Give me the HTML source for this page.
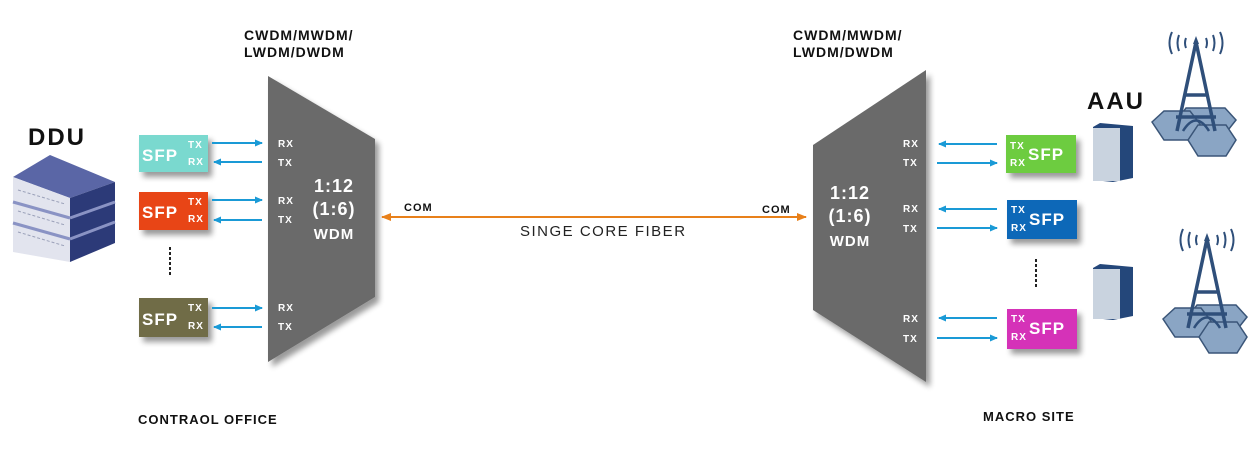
<!DOCTYPE html>
<html><head><meta charset="utf-8"><style>
body{margin:0;background:#fff;width:1259px;height:446px;overflow:hidden;font-family:"Liberation Sans",Arial,sans-serif}
svg text{font-family:"Liberation Sans",Arial,sans-serif;font-weight:bold}
</style></head><body>
<svg width="1259" height="446" viewBox="0 0 1259 446">
<defs>
<filter id="sh" x="-20%" y="-20%" width="150%" height="150%"><feGaussianBlur in="SourceAlpha" stdDeviation="3"/><feOffset dx="4" dy="5"/><feComponentTransfer><feFuncA type="linear" slope="0.4"/></feComponentTransfer><feMerge><feMergeNode/><feMergeNode in="SourceGraphic"/></feMerge></filter>
<marker id="ab" markerWidth="8" markerHeight="7" refX="7" refY="3.5" orient="auto" markerUnits="userSpaceOnUse"><path d="M0,0L8,3.5L0,7z" fill="#1a9ad6"/></marker>
<marker id="ao" markerWidth="10" markerHeight="8" refX="9" refY="4" orient="auto" markerUnits="userSpaceOnUse"><path d="M0,0L10,4L0,8z" fill="#e8801a"/></marker>
</defs>
<g letter-spacing="1">
<text x="244" y="40" font-size="14" fill="#111">CWDM/MWDM/</text>
<text x="244" y="57" font-size="14" fill="#111">LWDM/DWDM</text>
<text x="793" y="40" font-size="14" fill="#111">CWDM/MWDM/</text>
<text x="793" y="57" font-size="14" fill="#111">LWDM/DWDM</text>
<text x="28" y="145" font-size="24" fill="#111" letter-spacing="2">DDU</text>
<text x="1087" y="109" font-size="24" fill="#111" letter-spacing="2">AAU</text>
<text x="138" y="424" font-size="13" fill="#111">CONTRAOL OFFICE</text>
<text x="983" y="421" font-size="13" fill="#111">MACRO SITE</text>
</g>
<polygon points="268,76 375,139 375,297 268,362" fill="#6b6b6b" filter="url(#sh)"/>
<polygon points="813,145 926,70 926,382 813,310" fill="#6b6b6b" filter="url(#sh)"/>
<g fill="#fff" text-anchor="middle" letter-spacing="1">
<text x="334" y="192" font-size="18">1:12</text><text x="334" y="215" font-size="18">(1:6)</text><text x="334" y="239" font-size="15">WDM</text>
<text x="850" y="199" font-size="18">1:12</text><text x="850" y="222" font-size="18">(1:6)</text><text x="850" y="246" font-size="15">WDM</text>
</g>
<g fill="#fff" font-size="10" letter-spacing="1">
<text x="278" y="147">RX</text><text x="278" y="166">TX</text>
<text x="278" y="204">RX</text><text x="278" y="223">TX</text>
<text x="278" y="311">RX</text><text x="278" y="330">TX</text>
<text x="903" y="147">RX</text><text x="903" y="166">TX</text>
<text x="903" y="212">RX</text><text x="903" y="232">TX</text>
<text x="903" y="322">RX</text><text x="903" y="342">TX</text>
</g>
<line x1="382" y1="217" x2="806" y2="217" stroke="#e8801a" stroke-width="2" marker-end="url(#ao)"/>
<line x1="806" y1="217" x2="382" y2="217" stroke="#e8801a" stroke-width="2" marker-end="url(#ao)"/>
<text x="404" y="211" font-size="11" fill="#111" letter-spacing="1">COM</text>
<text x="762" y="213" font-size="11" fill="#111" letter-spacing="1">COM</text>
<text x="520" y="236" font-size="15" fill="#222" style="font-weight:normal" letter-spacing="1.5">SINGE CORE FIBER</text>
<g filter="url(#sh)">
<rect x="139" y="135" width="69" height="37" fill="#7ad9cf"/>
<rect x="139" y="192" width="69" height="38" fill="#e84418"/>
<rect x="139" y="298" width="69" height="39" fill="#6f6c47"/>
<rect x="1006" y="135" width="70" height="38" fill="#6dcc3f"/>
<rect x="1007" y="200" width="70" height="39" fill="#0f68b8"/>
<rect x="1007" y="309" width="70" height="40" fill="#d531b8"/>
</g>
<g fill="#fff" letter-spacing="1">
<text x="142" y="161" font-size="17">SFP</text><text x="188" y="148" font-size="10">TX</text><text x="188" y="165" font-size="10">RX</text>
<text x="142" y="218" font-size="17">SFP</text><text x="188" y="205" font-size="10">TX</text><text x="188" y="222" font-size="10">RX</text>
<text x="142" y="325" font-size="17">SFP</text><text x="188" y="311" font-size="10">TX</text><text x="188" y="329" font-size="10">RX</text>
<text x="1028" y="160" font-size="17">SFP</text><text x="1010" y="149" font-size="10">TX</text><text x="1010" y="166" font-size="10">RX</text>
<text x="1029" y="225" font-size="17">SFP</text><text x="1011" y="213" font-size="10">TX</text><text x="1011" y="231" font-size="10">RX</text>
<text x="1029" y="334" font-size="17">SFP</text><text x="1011" y="322" font-size="10">TX</text><text x="1011" y="340" font-size="10">RX</text>
</g>
<g stroke="#1a9ad6" stroke-width="2">
<line x1="212" y1="143" x2="262" y2="143" marker-end="url(#ab)"/>
<line x1="262" y1="162" x2="214" y2="162" marker-end="url(#ab)"/>
<line x1="212" y1="200" x2="262" y2="200" marker-end="url(#ab)"/>
<line x1="262" y1="220" x2="214" y2="220" marker-end="url(#ab)"/>
<line x1="212" y1="308" x2="262" y2="308" marker-end="url(#ab)"/>
<line x1="262" y1="327" x2="214" y2="327" marker-end="url(#ab)"/>
<line x1="997" y1="144" x2="939" y2="144" marker-end="url(#ab)"/>
<line x1="937" y1="163" x2="997" y2="163" marker-end="url(#ab)"/>
<line x1="997" y1="209" x2="939" y2="209" marker-end="url(#ab)"/>
<line x1="937" y1="228" x2="997" y2="228" marker-end="url(#ab)"/>
<line x1="997" y1="318" x2="939" y2="318" marker-end="url(#ab)"/>
<line x1="937" y1="338" x2="997" y2="338" marker-end="url(#ab)"/>
</g>
<g stroke="#222" stroke-width="2" stroke-dasharray="3,2">
<line x1="170" y1="247" x2="170" y2="275"/>
<line x1="1036" y1="259" x2="1036" y2="288"/>
</g>
<g>
<polygon points="13,177 50,155 115,182 70,198" fill="#5a66a6"/>
<polygon points="13,177 70,198 70,262 13,252" fill="#e2e4ee"/>
<polygon points="70,198 115,182 115,243 70,262" fill="#2c3a78"/>
<g stroke="#8a93c4" stroke-width="3"><line x1="13" y1="202" x2="70" y2="218"/><line x1="70" y1="218" x2="115" y2="202"/><line x1="13" y1="223" x2="70" y2="239"/><line x1="70" y1="239" x2="115" y2="222"/></g>
<g stroke="#9aa0b8" stroke-width="1" stroke-dasharray="3,2"><line x1="18" y1="190" x2="65" y2="204"/><line x1="18" y1="211" x2="65" y2="225"/><line x1="18" y1="232" x2="65" y2="246"/></g>
</g>
<g>
<polygon points="1093,127 1100,123 1133,126 1133,178 1113,182 1093,180" fill="#24477a"/>
<rect x="1093" y="128" width="27" height="53" fill="#c9d3df"/>
<polygon points="1093,268 1100,264 1133,267 1133,316 1113,320 1093,318" fill="#24477a"/>
<rect x="1093" y="269" width="27" height="50" fill="#c9d3df"/>
</g>
<g id="tw">
<g fill="#8aa5c4" stroke="#3a5578" stroke-width="1.5">
<polygon points="1186,108 1225,108 1236,120 1225,134 1186,134 1177,120"/>
<polygon points="1152,122 1164,111 1190,111 1200,124 1190,140 1164,140"/>
<polygon points="1188,140 1198,125 1226,125 1236,140 1226,156 1198,156"/>
</g>
<g fill="none" stroke="#2f4f7a" stroke-width="3.5">
<path d="M1196,42 L1177,131 M1196,42 L1215,131 M1185,95 H1207 M1176,117 H1216"/>
<path d="M1183,131 Q1196,110 1209,131" stroke-width="2.5"/>
</g>
<path d="M1196,36 l-3,8 h6z" fill="#2f4f7a"/>
<path d="M1172,32 q-5,11 0,22 M1179,35 q-3,8 0,16 M1186,38 q-2,5 0,10 M1220,32 q5,11 0,22 M1213,35 q3,8 0,16 M1206,38 q2,5 0,10" stroke="#2f4f7a" stroke-width="2" fill="none"/>
</g>
<use href="#tw" transform="translate(11,197)"/>
</svg>
</body></html>
